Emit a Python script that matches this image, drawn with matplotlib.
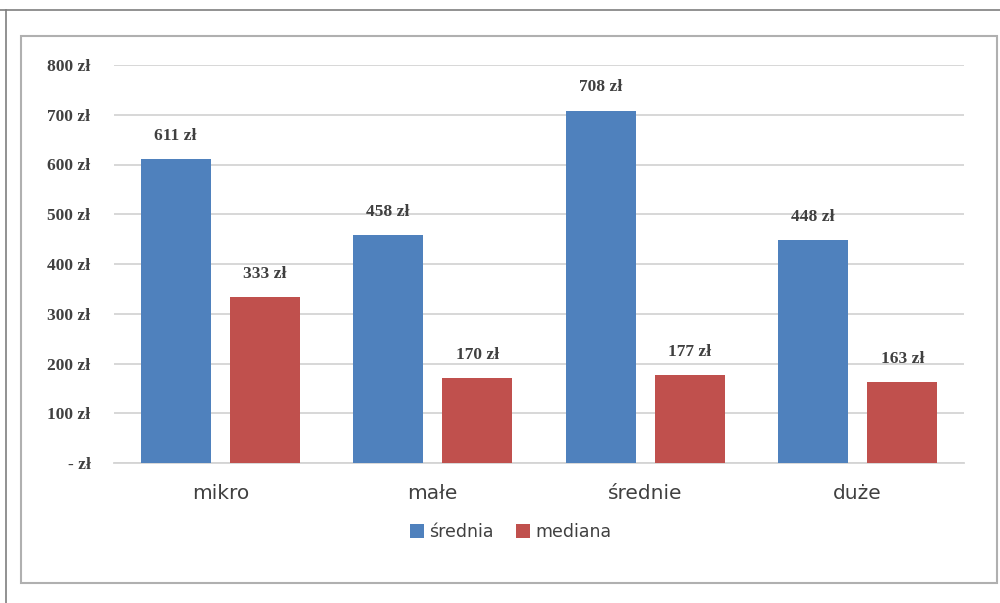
import matplotlib.pyplot as plt
import numpy as np
from matplotlib.patches import Rectangle
from matplotlib.lines import Line2D

categories = ["mikro", "małe", "średnie", "duże"]
srednia = [611, 458, 708, 448]
mediana = [333, 170, 177, 163]
yticks = [0, 100, 200, 300, 400, 500, 600, 700, 800]
series_names = ["średnia", "mediana"]

BLUE = "#4F81BD"
RED = "#C0504D"
GRID = "#D4D4D4"
TEXT = "#404040"

def zl(v):
    return "- zł" if v == 0 else f"{v} zł"

fig = plt.figure(figsize=(10, 6.03), dpi=100)

# outer page frame lines and inner chart box
fig.add_artist(Line2D([0, 1], [1 - 10 / 603, 1 - 10 / 603], transform=fig.transFigure,
                      color="#7F7F7F", lw=1.2))
fig.add_artist(Line2D([6 / 1000, 6 / 1000], [0, 1 - 10 / 603], transform=fig.transFigure,
                      color="#7F7F7F", lw=1.2))
fig.add_artist(Rectangle((21 / 1000, 1 - 583 / 603), (997 - 21) / 1000, (583 - 36) / 603,
                         transform=fig.transFigure, fill=False, edgecolor="#B0B0B0", lw=1.5))

ax = fig.add_axes([114 / 1000, 1 - 463 / 603, (964 - 114) / 1000, (463 - 65) / 603])
x = np.arange(len(categories))
w = 0.33
off = 0.21
b1 = ax.bar(x - off, srednia, w, color=BLUE, zorder=3, label=series_names[0])
b2 = ax.bar(x + off, mediana, w, color=RED, zorder=3, label=series_names[1])

ax.set_xlim(-0.5, len(categories) - 0.5)
ax.set_ylim(0, 800)
ax.set_yticks(yticks)
ax.set_yticklabels([zl(v) for v in yticks], fontsize=12.5, fontweight="bold",
                   color=TEXT, family="Liberation Serif")
ax.yaxis.grid(True, color=GRID, lw=1.3, zorder=0)
ax.set_axisbelow(True)
ax.tick_params(axis="y", length=0, pad=17)
ax.set_xticks(x)
ax.set_xticklabels(categories, fontsize=14.5, color=TEXT, family="DejaVu Sans")
ax.tick_params(axis="x", length=0, pad=15)
for s in ["top", "right", "left"]:
    ax.spines[s].set_visible(False)
ax.spines["bottom"].set_color(GRID)
ax.spines["bottom"].set_linewidth(1.3)

for bars, vals in ((b1, srednia), (b2, mediana)):
    for rect, v in zip(bars, vals):
        ax.annotate(zl(v), (rect.get_x() + rect.get_width() / 2, v),
                    xytext=(0, 11), textcoords="offset points", ha="center", va="bottom",
                    fontsize=12.5, fontweight="bold", color=TEXT, family="Liberation Serif")

fig.legend(handles=[b1, b2], labels=series_names, loc="center",
           bbox_to_anchor=(0.511, 1 - 532 / 603), ncol=2, frameon=False,
           fontsize=12.5, handlelength=0.8, handleheight=0.8, handletextpad=0.3,
           columnspacing=1.3, labelcolor=TEXT)

fig.savefig("out.png", dpi=100)
